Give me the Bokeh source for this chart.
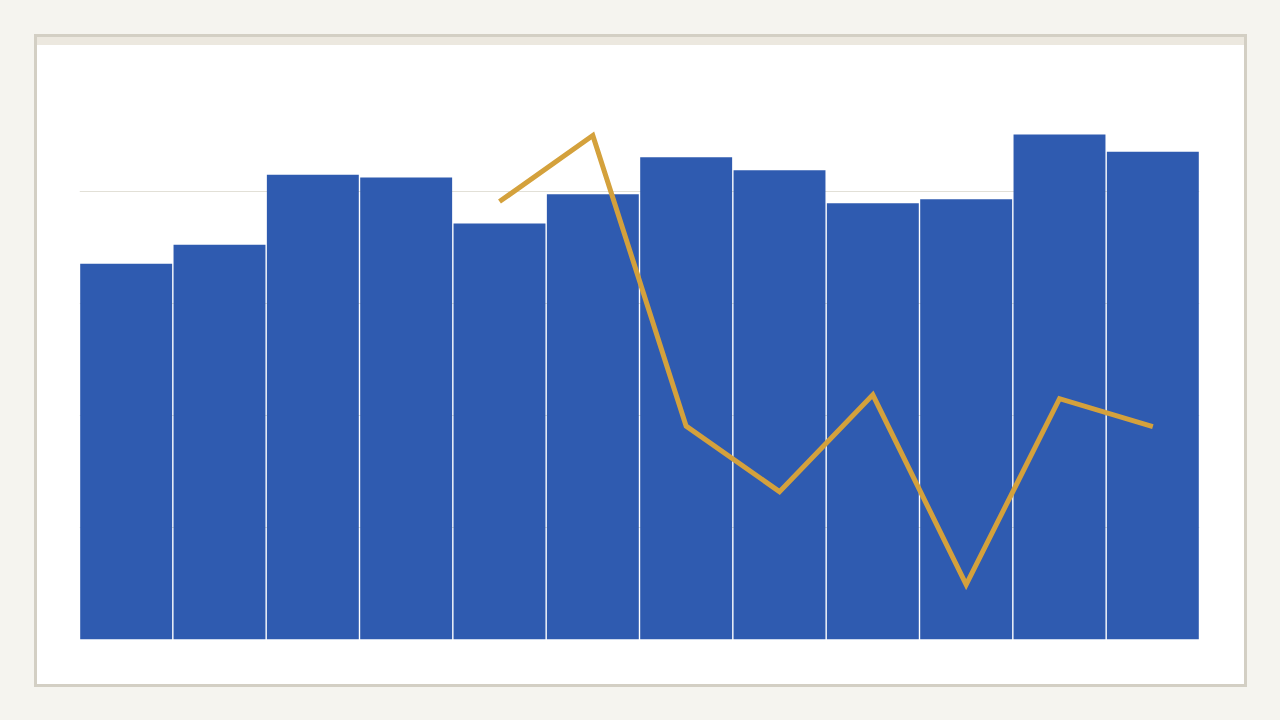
from bokeh.plotting import figure
from bokeh.models import Div, Grid, FixedTicker, FactorRange, Range1d, ColumnDataSource
from bokeh.layouts import column
from bokeh.embed import file_html
from bokeh.resources import INLINE

# ---- data ----
categories = ["Jan", "Feb", "Mar", "Apr", "May", "Jun",
              "Jul", "Aug", "Sep", "Oct", "Nov", "Dec"]
bar_values = [67.1, 70.5, 83.0, 82.5, 74.3, 79.5, 86.1, 83.8, 77.9, 78.6, 90.2, 87.1]
line_categories = ["May", "Jun", "Jul", "Aug", "Sep", "Oct", "Nov", "Dec"]
line_values = [78.2, 90.0, 38.1, 26.4, 43.7, 9.8, 43.0, 38.0]
grid_ticks = [20, 40, 60, 80]

BAR = "#2f5bb0"
LINE = "#d4a13c"
GRID = "#e2e0d7"
PAGE = "#f5f4ef"
STRIP = "#ece8df"
BORDER = "#d3cfc4"

p = figure(
    x_range=FactorRange(*categories),
    y_range=Range1d(0, 100),
    width=1207, height=639,
    output_backend="svg", toolbar_location=None,
    x_axis_location=None, y_axis_location=None,
    min_border_left=42, min_border_right=45,
    min_border_top=34, min_border_bottom=45,
    background_fill_color="white", border_fill_color="white",
    outline_line_color=None, margin=0,
)
for g in p.grid:
    g.visible = False

grid = Grid(dimension=1, ticker=FixedTicker(ticks=grid_ticks),
            grid_line_color=GRID, grid_line_width=1)
p.add_layout(grid)

bars = ColumnDataSource(dict(x=categories, top=bar_values))
p.vbar(x="x", top="top", bottom=0, width=0.985, source=bars,
       fill_color=BAR, line_color=None)

line = ColumnDataSource(dict(x=line_categories, y=line_values))
p.line(x="x", y="y", source=line, line_color=LINE, line_width=5,
       line_join="miter")

strip = Div(width=1207, height=8, margin=0,
            styles={"background-color": STRIP})

layout = column(strip, p, spacing=0, margin=(34, 0, 0, 34),
                styles={"border": f"3px solid {BORDER}",
                        "background-color": "white"})

html = file_html(layout, INLINE)
html = html.replace("</head>",
                    f"<style>html, body {{ background-color: {PAGE}; }}</style></head>", 1)
open("out.html", "w").write(html)
